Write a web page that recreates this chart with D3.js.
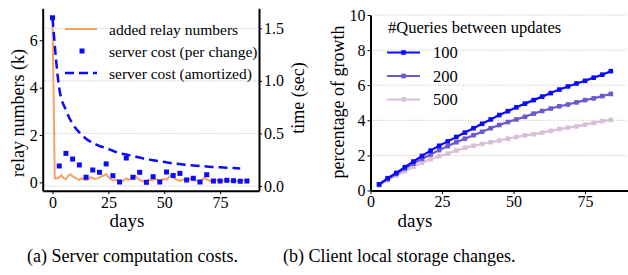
<!DOCTYPE html>
<html>
<head>
<meta charset="utf-8">
<script src="https://cdn.jsdelivr.net/npm/d3@7"></script>
<style>
  body { margin: 0; background: #fff; }
  svg text { font-family: "Liberation Serif" !important; }
</style>
</head>
<body>
<div id="chart"></div>
<script>
// ---- data ----
// (a) added relay numbers (k), one value per day 0..88
const relayDays = d3.range(0, 89);
const relayK = [7.0, 0.17, 0.17, 0.22, 0.30, 0.18, 0.14, 0.28, 0.34, 0.26,
  0.20, 0.15, 0.10, 0.18, 0.12, 0.09, 0.14, 0.22, 0.18, 0.15,
  0.17, 0.20, 0.26, 0.30, 0.35, 0.22, 0.14, 0.10, 0.12, 0.08,
  0.04, 0.03, 0.10, 0.17, 0.12, 0.15, 0.22, 0.26, 0.18, 0.10,
  0.06, 0.04, 0.05, 0.12, 0.09, 0.10, 0.16, 0.10, 0.08, 0.12,
  0.14, 0.12, 0.22, 0.30, 0.20, 0.14, 0.10, 0.06, 0.10, 0.12,
  0.11, 0.14, 0.16, 0.12, 0.08, 0.05, 0.04, 0.10, 0.20, 0.12,
  0.08, 0.06, 0.05, 0.08, 0.10, 0.07, 0.06, 0.08, 0.05, 0.07,
  0.06, 0.09, 0.07, 0.05, 0.08, 0.10, 0.08, 0.10, 0.13];

// server cost per change (sec), every 3 days
const costDays = d3.range(0, 88, 3);
const costPerChange = [1.6, 0.19, 0.31, 0.256, 0.20, 0.083, 0.152, 0.13, 0.21, 0.098,
  0.038, 0.266, 0.083, 0.13, 0.035, 0.088, 0.038, 0.133, 0.10, 0.12,
  0.057, 0.073, 0.038, 0.107, 0.047, 0.047, 0.054, 0.05, 0.045, 0.047];

// server cost amortized (sec), days 0..84
const amortDays = d3.range(0, 85, 3);
const costAmortized = [1.6, 0.93, 0.72, 0.59, 0.51, 0.45, 0.41, 0.38, 0.36, 0.335,
  0.31, 0.30, 0.285, 0.27, 0.255, 0.245, 0.235, 0.225, 0.215, 0.208,
  0.20, 0.195, 0.19, 0.185, 0.18, 0.177, 0.173, 0.17, 0.167];

// (b) percentage of growth, days 3..84
const growthDays = d3.range(3, 85, 3);
const growth100 = [0.35, 0.7, 1.0, 1.33, 1.65, 1.97, 2.27, 2.55, 2.8, 3.05,
  3.3, 3.55, 3.8, 4.05, 4.3, 4.52, 4.74, 4.95, 5.15, 5.35,
  5.55, 5.75, 5.93, 6.1, 6.25, 6.43, 6.6, 6.8];
const growth200 = [0.35, 0.65, 0.95, 1.25, 1.53, 1.8, 2.05, 2.3, 2.53, 2.75,
  2.95, 3.15, 3.35, 3.55, 3.73, 3.9, 4.05, 4.2, 4.38, 4.53,
  4.67, 4.8, 4.9, 5.02, 5.15, 5.25, 5.38, 5.5];
const growth500 = [0.3, 0.6, 0.85, 1.1, 1.35, 1.58, 1.78, 1.95, 2.1, 2.28,
  2.43, 2.55, 2.65, 2.75, 2.85, 2.95, 3.05, 3.14, 3.2, 3.3,
  3.4, 3.5, 3.58, 3.65, 3.75, 3.85, 3.95, 4.02];
const queryLabels = ["100", "200", "500"];
const queryColors = ["#0a0aff", "#6a5acd", "#d8bfd8"];

const width = 628;
const height = 275;

const svg = d3.select("#chart")
  .append("svg")
  .attr("width", width)
  .attr("height", height);

svg.append("rect").attr("width", width).attr("height", height).attr("fill", "#fff");

// helper for plain labels
function label(g, x, y, txt, size, rot, anchor) {
  return g.append("text")
    .attr("transform", `translate(${x},${y})` + (rot ? " rotate(-90)" : ""))
    .attr("text-anchor", anchor || "middle")
    .attr("dominant-baseline", "central")
    .style("font-size", size + "px")
    .attr("fill", "#000")
    .text(txt);
}

// ================= (a) =================
const aLeft = 42.7, aRight = 259, aTop = 8.3, aBottom = 190.7;
const xA = d3.scaleLinear().domain([-4.4, 92.4]).range([aLeft, aRight]);
const yRelay = d3.scaleLinear().domain([-0.35, 7.35]).range([aBottom, aTop]);
const yTime = d3.scaleLinear().domain([-0.045, 1.69]).range([aBottom, aTop]);

const gA = svg.append("g");

// grid lines at the time ticks
gA.selectAll(".grid")
  .data([0, 0.5, 1.0, 1.5])
  .enter().append("line")
  .attr("x1", aLeft).attr("x2", aRight)
  .attr("y1", d => yTime(d)).attr("y2", d => yTime(d))
  .attr("stroke", "#b0b0b0")
  .attr("stroke-width", 0.8)
  .attr("stroke-dasharray", "1,1.5");

// relay line
gA.append("path")
  .datum(relayK)
  .attr("fill", "none")
  .attr("stroke", "#f5a262")
  .attr("stroke-width", 2)
  .attr("d", d3.line().x((d, i) => xA(relayDays[i])).y(d => yRelay(d)));

// amortized cost dashed
gA.append("path")
  .datum(costAmortized)
  .attr("fill", "none")
  .attr("stroke", "#0a0aff")
  .attr("stroke-width", 2.5)
  .attr("stroke-dasharray", "9,5")
  .attr("d", d3.line().curve(d3.curveMonotoneX).x((d, i) => xA(amortDays[i])).y(d => yTime(d)));

// per-change squares
gA.selectAll(".sq")
  .data(costPerChange)
  .enter().append("rect")
  .attr("x", (d, i) => xA(costDays[i]) - 2.5)
  .attr("y", d => yTime(d) - 2.5)
  .attr("width", 5).attr("height", 5)
  .attr("fill", "#0a0aff");

// axes
const axA = gA.append("g")
  .attr("transform", `translate(0,${aBottom})`)
  .call(d3.axisBottom(xA).tickValues([0, 25, 50, 75]).tickSize(3.5).tickSizeOuter(0).tickPadding(2));
const ayL = gA.append("g")
  .attr("transform", `translate(${aLeft},0)`)
  .call(d3.axisLeft(yRelay).tickValues([0, 2, 4, 6]).tickSize(3).tickSizeOuter(0).tickPadding(2));
const ayR = gA.append("g")
  .attr("transform", `translate(${aRight},0)`)
  .call(d3.axisRight(yTime).tickValues([0, 0.5, 1.0, 1.5]).tickFormat(d3.format(".1f")).tickSize(3).tickSizeOuter(0).tickPadding(2));

function styleAxis(g) {
  g.attr("font-family", null);
  g.select(".domain").attr("stroke", "#000").attr("stroke-width", 2);
  g.selectAll(".tick line").attr("stroke", "#000").attr("stroke-width", 1);
  g.selectAll(".tick text").style("font-size", "16px").attr("fill", "#000");
}
[axA, ayL, ayR].forEach(styleAxis);

label(gA, 18, 113, "relay numbers (k)", 18, true);
label(gA, 298, 98, "time (sec)", 18, true);
label(gA, 127, 220, "days", 19);

// legend (a)
const legA = gA.append("g");
legA.append("line").attr("x1", 65).attr("x2", 97).attr("y1", 29).attr("y2", 29)
  .attr("stroke", "#f5a262").attr("stroke-width", 2);
legA.append("rect").attr("x", 79.5).attr("y", 48.5).attr("width", 5).attr("height", 5)
  .attr("fill", "#0a0aff");
legA.append("line").attr("x1", 65).attr("x2", 97).attr("y1", 73).attr("y2", 73)
  .attr("stroke", "#0a0aff").attr("stroke-width", 2.5).attr("stroke-dasharray", "9,5");
["added relay numbers", "server cost (per change)", "server cost (amortized)"].forEach((t, i) => {
  label(legA, 109, 29 + i * 22, t, 15.5, false, "start");
});

// ================= (b) =================
const bLeft = 370.5, bRight = 628, bTop = 15, bBottom = 190.5;
const xB = d3.scaleLinear().domain([0, 90]).range([bLeft, bRight]);
const yB = d3.scaleLinear().domain([0, 10]).range([bBottom, bTop]);

const gB = svg.append("g");

gB.selectAll(".grid")
  .data([2, 4, 6, 8, 10])
  .enter().append("line")
  .attr("x1", bLeft).attr("x2", bRight)
  .attr("y1", d => yB(d)).attr("y2", d => yB(d))
  .attr("stroke", "#b0b0b0")
  .attr("stroke-width", 0.8)
  .attr("stroke-dasharray", "1,1.5");

const series = [growth100, growth200, growth500];
// draw 500 first so 100 sits on top
[2, 1, 0].forEach(k => {
  gB.append("path")
    .datum(series[k])
    .attr("fill", "none")
    .attr("stroke", queryColors[k])
    .attr("stroke-width", 2.2)
    .attr("d", d3.line().x((d, i) => xB(growthDays[i])).y(d => yB(d)));
  gB.selectAll(".m" + k)
    .data(series[k])
    .enter().append("rect")
    .attr("x", (d, i) => xB(growthDays[i]) - 2.3)
    .attr("y", d => yB(d) - 2.3)
    .attr("width", 4.6).attr("height", 4.6)
    .attr("fill", queryColors[k]);
});

const axB = gB.append("g")
  .attr("transform", `translate(0,${bBottom})`)
  .call(d3.axisBottom(xB).tickValues([0, 25, 50, 75]).tickSize(3.5).tickSizeOuter(0).tickPadding(2));
const ayB = gB.append("g")
  .attr("transform", `translate(${bLeft},0)`)
  .call(d3.axisLeft(yB).tickValues([0, 2, 4, 6, 8, 10]).tickSize(3).tickSizeOuter(0).tickPadding(2));
[axB, ayB].forEach(styleAxis);

label(gB, 338, 102, "percentage of growth", 18, true);
label(gB, 415, 220, "days", 19);

// legend (b)
const legB = gB.append("g");
label(legB, 388, 27, "#Queries between updates", 16.5, false, "start");
queryLabels.forEach((t, i) => {
  const yy = 52.5 + i * 23.5;
  legB.append("line").attr("x1", 387).attr("x2", 420).attr("y1", yy).attr("y2", yy)
    .attr("stroke", queryColors[i]).attr("stroke-width", 2.2);
  legB.append("rect").attr("x", 403.5 - 2.3).attr("y", yy - 2.3).attr("width", 4.6).attr("height", 4.6)
    .attr("fill", queryColors[i]);
  label(legB, 433, yy, t, 16.5, false, "start");
});

// captions
label(svg, 27, 256, "(a) Server computation costs.", 18, false, "start");
label(svg, 283, 256, "(b) Client local storage changes.", 18, false, "start");
</script>
</body>
</html>
